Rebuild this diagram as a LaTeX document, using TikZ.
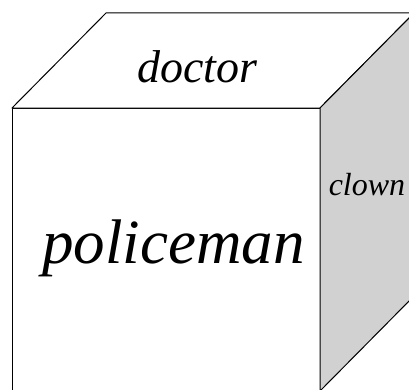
\documentclass[tikz,border=0pt]{standalone}
\usepackage{fontspec}
\setmainfont{Liberation Serif}
\usetikzlibrary{calc}

\begin{document}
\begin{tikzpicture}[x=1pt, y=1pt, line cap=round, line join=round]
            \useasboundingbox (0,0) rectangle (409,389);
            \clip (0,0) rectangle (409,389);
            \coordinate (A) at (12,-2);
            \coordinate (B) at (320,-2);
            \coordinate (C) at (320,281);
            \coordinate (D) at (12,281);
            \coordinate (E) at ($(D)+(94,95)$);
            \coordinate (F) at ($(C)+(94,95)$);
            \coordinate (G) at ($(B)+(94,95)$);

            \draw[line width=1pt, fill=white] (A) -- (B) -- (C) -- (D) -- cycle;
            \draw[line width=1pt, fill=white] (D) -- (E) -- (F) -- (C) -- cycle;
            \draw[line width=1pt, fill=black!18] (C) -- (F) -- (G) -- (B) -- cycle;

            \node[anchor=base, inner sep=0pt, font=\itshape\fontsize{46}{50}\selectfont] (top) at (197.5,306) {doctor};
            \node[anchor=base, inner sep=0pt, font=\itshape\fontsize{63}{68}\selectfont] (front) at (173.5,126) {policeman};
            \node[anchor=base, inner sep=0pt, font=\itshape\fontsize{32}{36}\selectfont] (side) at (367,194) {clown};

        \end{tikzpicture}
\end{document}
